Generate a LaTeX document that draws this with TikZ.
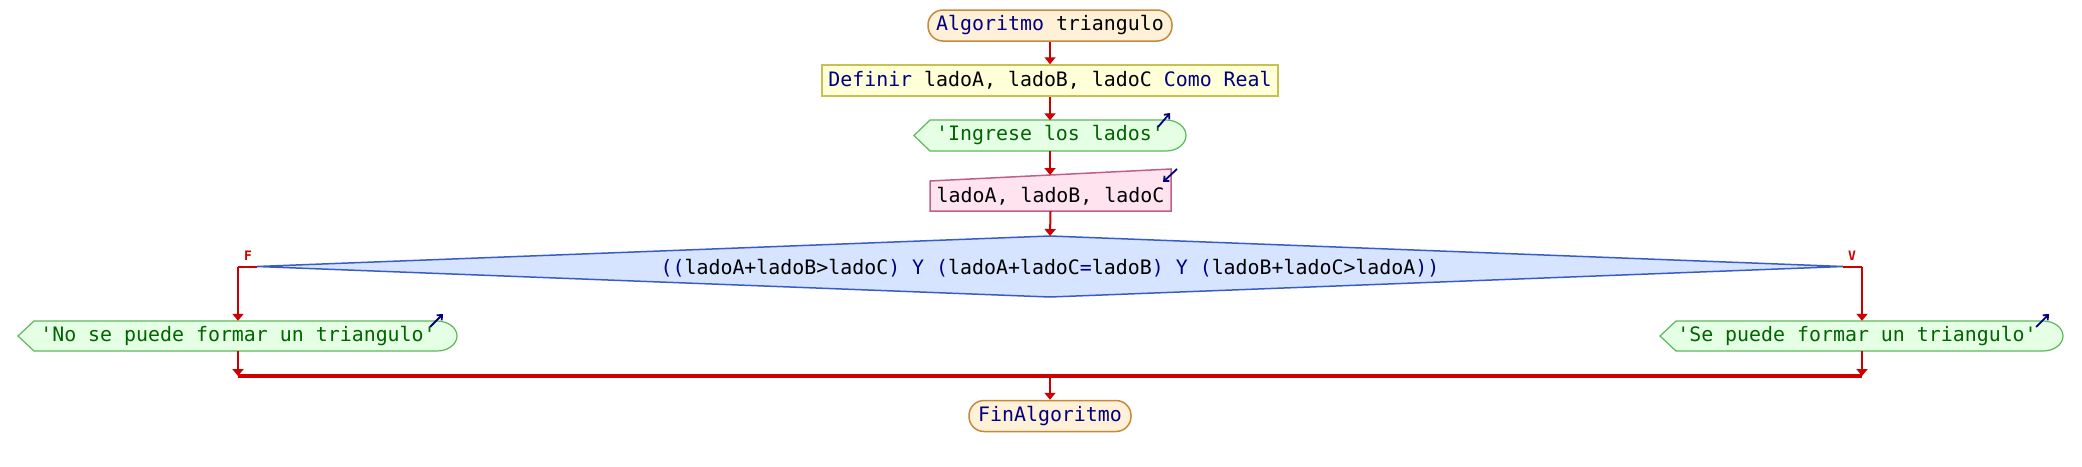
\documentclass[tikz,border=0pt]{standalone}
\usepackage{fontspec}
\setmonofont{DejaVu Sans Mono}
\usetikzlibrary{arrows.meta,calc}
\definecolor{kw}{HTML}{000080}
\definecolor{strc}{HTML}{006400}
\definecolor{flowred}{HTML}{CC0000}
\definecolor{sefill}{HTML}{FFF0D8}
\definecolor{sedraw}{HTML}{C8883A}
\definecolor{deffill}{HTML}{FFFFD8}
\definecolor{defdraw}{HTML}{C8C050}
\definecolor{outfill}{HTML}{E4FFE4}
\definecolor{outdraw}{HTML}{5CB85C}
\definecolor{rdfill}{HTML}{FFE4F0}
\definecolor{rddraw}{HTML}{C0608A}
\definecolor{difill}{HTML}{D6E4FF}
\definecolor{didraw}{HTML}{3A5CC8}
\begin{document}
\begin{tikzpicture}[x=1pt,y=-1pt,
  font=\ttfamily\fontsize{19.9}{24}\selectfont,
  startend/.style={draw=sedraw,fill=sefill,line width=1.5pt,rounded corners=15pt,inner sep=0pt,minimum height=31pt},
  defbox/.style={draw=defdraw,fill=deffill,line width=1.5pt,inner sep=0pt,minimum height=31pt},
  ghost/.style={inner sep=0pt,minimum height=30pt},
  outshape/.style={draw=outdraw,fill=outfill,line width=1.2pt},
  rdshape/.style={draw=rddraw,fill=rdfill,line width=1.5pt},
  dishape/.style={draw=didraw,fill=difill,line width=1.5pt},
  flow/.style={draw=flowred,line width=2pt,-{Triangle[length=7pt,width=11pt]}},
  merge/.style={draw=flowred,line width=3.2pt},
  branch/.style={draw=flowred,line width=2pt},
  icon/.style={draw=kw,line width=1.8pt,-{Straight Barb[length=4pt,width=7pt]}},
  tflabel/.style={text=flowred,font=\ttfamily\bfseries\fontsize{13}{13}\selectfont,inner sep=0pt}
]
\useasboundingbox (0,0) rectangle (2082,466);
\fill[white] (0,0) rectangle (2082,466);

% start
\node[startend,minimum width=244pt] (start) at (1050,25.5) {\textcolor{kw}{Algoritmo} triangulo};
% define
\node[defbox,minimum width=456pt] (def) at (1050,80.5) {\textcolor{kw}{Definir} ladoA, ladoB, ladoC \textcolor{kw}{Como Real}};

% output 'Ingrese los lados'
\path[outshape] (914,135.5) -- (930,120) -- (1166,120) arc[start angle=90,end angle=-90,x radius=20pt,y radius=15.5pt] -- (930,151) -- cycle;
\node[ghost,minimum width=272pt] (ing) at (1050,135.5) {\textcolor{strc}{'Ingrese los lados'}};
\draw[icon] (1158,127) -- (1170,113);

% read
\path[rdshape] (930,181) -- (1171,169) -- (1171,211) -- (930,211) -- cycle;
\coordinate (rdtop) at (1050,175);
\node[ghost,minimum width=241pt] (rd) at (1050.5,196) {ladoA, ladoB, ladoC};
\draw[icon] (1177,169) -- (1163,182);

% decision
\path[dishape] (257,266.5) -- (1050,236) -- (1843,266.5) -- (1050,297) -- cycle;
\coordinate (diT) at (1050,236);
\coordinate (diL) at (257,266.5);
\coordinate (diR) at (1843,266.5);
\node[inner sep=0pt] (dia) at (1050,268) {\textcolor{kw}{((}ladoA+ladoB>ladoC\textcolor{kw}{) Y (}ladoA+ladoC\textcolor{kw}{=}ladoB\textcolor{kw}{) Y (}ladoB+ladoC>ladoA\textcolor{kw}{))}};

% left output
\path[outshape] (18,336) -- (34,321) -- (437,321) arc[start angle=90,end angle=-90,x radius=20pt,y radius=15pt] -- (34,351) -- cycle;
\node[ghost,minimum width=439pt] (no) at (238,336) {\textcolor{strc}{'No se puede formar un triangulo'}};
\draw[icon] (430,327) -- (443,314);

% right output
\path[outshape] (1660,336) -- (1676,321) -- (2043,321) arc[start angle=90,end angle=-90,x radius=20pt,y radius=15pt] -- (1676,351) -- cycle;
\node[ghost,minimum width=403pt] (si) at (1862,336) {};
\node[inner sep=0pt] (sitext) at (1857,336) {\textcolor{strc}{'Se puede formar un triangulo'}};
\draw[icon] (2036,327) -- (2049,314);

% end
\node[startend,minimum width=162pt] (fin) at (1050,416) {\textcolor{kw}{FinAlgoritmo}};

% connectors
\draw[flow] (start.south) -- (def.north);
\draw[flow] (def.south) -- (ing.north);
\draw[flow] (ing.south) -- (rdtop);
\draw[flow] (rd.south) -- (diT);

\coordinate (bL) at (238,266.5);
\coordinate (bR) at (1862,266.5);
\draw[branch] (diL) -- (bL);
\draw[flow] (bL) -- (no.north);
\draw[branch] (diR) -- (bR);
\draw[flow] (bR) -- (si.north);
\node[tflabel] (flab) at (248,256) {F};
\node[tflabel] (vlab) at (1852,256) {V};

\coordinate (mL) at (238,376);
\coordinate (mR) at (1862,376);
\coordinate (mC) at (1050,376);
\draw[flow] (no.south) -- (mL);
\draw[flow] (si.south) -- (mR);
\draw[merge] (mL) -- (mR);
\draw[flow] (mC) -- (fin.north);
\end{tikzpicture}
\end{document}
